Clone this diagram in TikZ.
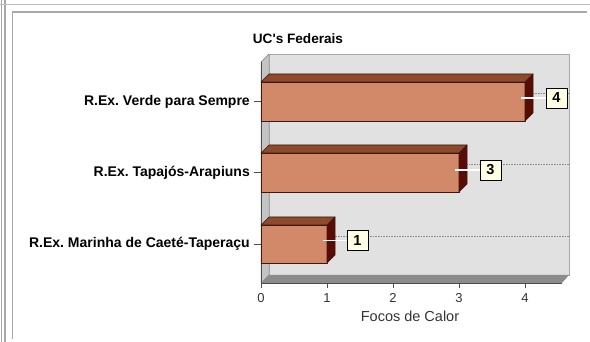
\documentclass[tikz,border=0pt]{standalone}
\usepackage{fontspec}
\setmainfont{Liberation Sans}
\usetikzlibrary{positioning}
\frenchspacing
\definecolor{barfront}{HTML}{D2896A}
\definecolor{bartop}{HTML}{8E4A2C}
\definecolor{barside}{HTML}{5A0B04}
\definecolor{bardark}{HTML}{3A1A10}
\definecolor{wallback}{HTML}{E1E1E1}
\definecolor{wallside}{HTML}{C4C4C4}
\definecolor{wallfloor}{HTML}{8C8C8C}
\definecolor{labelbg}{HTML}{FFFFE4}
\definecolor{framegray}{HTML}{A8A8A8}

\begin{document}
\begin{tikzpicture}[x=1pt,y=-1pt,
	catnode/.style={anchor=east,inner sep=0pt,font=\bfseries\fontsize{14}{14}\selectfont},
	ticknode/.style={inner sep=0pt,font=\fontsize{13}{14}\selectfont,text=black!80},
	valnode/.style={rectangle,draw=black,fill=labelbg,line width=0.9pt,inner sep=0pt,minimum width=21pt,minimum height=20pt,font=\bfseries\fontsize{14.5}{14}\selectfont},
	barface/.style={draw=bardark,line width=0.6pt,line join=round},
	leader/.style={white,line width=1.3pt},
	gridline/.style={black!45,densely dotted,line width=0.6pt}]
		\useasboundingbox[fill=white] (0,0) rectangle (590,342);
		% frame
		\draw[framegray,line width=1.2pt] (1.5,0) -- (1.5,342);
		\draw[framegray,line width=1.2pt] (5,0) -- (5,342);
		\draw[black!25,line width=1pt] (0,5) -- (590,5);
		\draw[framegray,line width=1.2pt] (12.5,339) -- (12.5,12) -- (587,12);
		% walls and floor
		\fill[wallback,draw=framegray,line width=0.6pt] (269,54) rectangle (569,275);
		\fill[wallside,draw=gray] (261,62) -- (269,54) -- (269,275) -- (261,283) -- cycle;
		\fill[wallfloor] (261,283) -- (269,275) -- (569,275) -- (562,283) -- cycle;
		\draw[gridline] (269,93.5) -- (569,93.5);
		\draw[gridline] (269,164.5) -- (569,164.5);
		\draw[gridline] (269,236) -- (569,236);
		% axes and ticks
		\draw[black!70,line width=0.8pt] (261,62) -- (261,283) -- (562,283);
		\draw[black!70,line width=0.8pt] (254,101.5) -- (261,101.5);
		\draw[black!70,line width=0.8pt] (254,172.5) -- (261,172.5);
		\draw[black!70,line width=0.8pt] (254,244) -- (261,244);
		\draw[black!70,line width=0.8pt] (261,283) -- (261,288);
		\draw[black!70,line width=0.8pt] (327,283) -- (327,288);
		\draw[black!70,line width=0.8pt] (393,283) -- (393,288);
		\draw[black!70,line width=0.8pt] (459,283) -- (459,288);
		\draw[black!70,line width=0.8pt] (525,283) -- (525,288);
		% bar R.Ex. Verde para Sempre
		\filldraw[barface,fill=barfront] (261,82) rectangle (525,121);
		\filldraw[barface,fill=bartop] (261,82) -- (269,74) -- (533,74) -- (525,82) -- cycle;
		\filldraw[barface,fill=barside] (525,82) -- (533,74) -- (533,113) -- (525,121) -- cycle;
		% bar R.Ex. Tapajos-Arapiuns
		\filldraw[barface,fill=barfront] (261,153) rectangle (459,192);
		\filldraw[barface,fill=bartop] (261,153) -- (269,145) -- (467,145) -- (459,153) -- cycle;
		\filldraw[barface,fill=barside] (459,153) -- (467,145) -- (467,184) -- (459,192) -- cycle;
		% bar R.Ex. Marinha
		\filldraw[barface,fill=barfront] (261,225) rectangle (327,263);
		\filldraw[barface,fill=bartop] (261,225) -- (269,217) -- (335,217) -- (327,225) -- cycle;
		\filldraw[barface,fill=barside] (327,225) -- (335,217) -- (335,255) -- (327,263) -- cycle;
		% labels
		\node [font=\bfseries\fontsize{13.6}{14}\selectfont] (title) at (298,39) {UC\textquotesingle s Federais};
		\node [catnode] (cat1) at (250,101.5) {R.Ex. Verde para Sempre};
		\node [catnode] (cat2) at (250,172.5) {R.Ex. Tapajós-Arapiuns};
		\node [catnode] (cat3) at (250,244) {R.Ex. Marinha de Caeté-Taperaçu};
		\node [ticknode] (t0) at (261,298) {0};
		\node [ticknode] (t1) at (327,298) {1};
		\node [ticknode] (t2) at (393,298) {2};
		\node [ticknode] (t3) at (459,298) {3};
		\node [ticknode] (t4) at (525,298) {4};
		\node [ticknode,font=\fontsize{14.5}{14}\selectfont] (xlabel) at (410,316) {Focos de Calor};
		% value boxes
		\coordinate (end1) at (521,98);
		\coordinate (end2) at (455,170);
		\coordinate (end3) at (323,240.5);
		\node [valnode] (val1) at (556.5,98) {4};
		\node [valnode] (val2) at (490.5,170) {3};
		\node [valnode] (val3) at (357.5,240.5) {1};
		\draw[leader] (end1) -- (val1);
		\draw[leader] (end2) -- (val2);
		\draw[leader] (end3) -- (val3);
	\end{tikzpicture}
\end{document}
